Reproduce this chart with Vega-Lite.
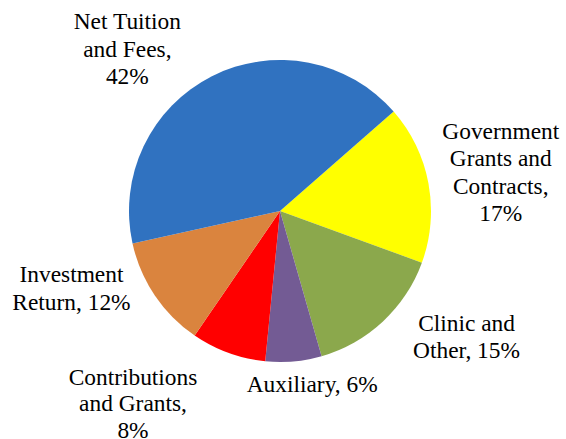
{
  "$schema": "https://vega.github.io/schema/vega-lite/v6.json",
  "width": 560,
  "height": 422,
  "padding": {"left": 0, "top": 0, "right": 6, "bottom": 17},
  "autosize": "none",
  "background": "white",
  "config": {"view": {"stroke": null}},
  "data": {
    "values": [
      {"category": "Government Grants and Contracts", "value": 17, "rank": 1, "label": "Government\nGrants and\nContracts,\n17%"},
      {"category": "Clinic and Other", "value": 15, "rank": 2, "label": "Clinic and\nOther, 15%"},
      {"category": "Auxiliary", "value": 6, "rank": 3, "label": "Auxiliary, 6%"},
      {"category": "Contributions and Grants", "value": 8, "rank": 4, "label": "Contributions\nand Grants,\n8%"},
      {"category": "Investment Return", "value": 12, "rank": 5, "label": "Investment\nReturn, 12%"},
      {"category": "Net Tuition and Fees", "value": 42, "rank": 6, "label": "Net Tuition\nand Fees,\n42%"}
    ]
  },
  "encoding": {
    "theta": {"field": "value", "type": "quantitative", "stack": true, "scale": {"range": [0.852, 7.135]}},
    "order": {"field": "rank", "type": "quantitative"}
  },
  "layer": [
    {
      "mark": {"type": "arc", "outerRadius": 151, "stroke": null},
      "encoding": {
        "color": {
          "field": "category",
          "type": "nominal",
          "legend": null,
          "scale": {
            "domain": ["Government Grants and Contracts", "Clinic and Other", "Auxiliary", "Contributions and Grants", "Investment Return", "Net Tuition and Fees"],
            "range": ["#FFFF00", "#8BA84C", "#735B94", "#FF0000", "#DA843E", "#3072C0"]
          }
        }
      }
    },
    {
      "mark": {"type": "text", "radius": 190, "dx": 34, "dy": -44, "font": "Liberation Serif", "fontSize": 23.4, "lineHeight": 27.3, "lineBreak": "\n", "align": "center", "baseline": "middle", "color": "black"},
      "encoding": {"detail": {"field": "category"}, "text": {"condition": {"test": "datum.category === 'Government Grants and Contracts'", "field": "label"}, "value": ""}}
    },
    {
      "mark": {"type": "text", "radius": 190, "dx": 57, "dy": -26, "font": "Liberation Serif", "fontSize": 23.4, "lineHeight": 27.5, "lineBreak": "\n", "align": "center", "baseline": "middle", "color": "black"},
      "encoding": {"detail": {"field": "category"}, "text": {"condition": {"test": "datum.category === 'Clinic and Other'", "field": "label"}, "value": ""}}
    },
    {
      "mark": {"type": "text", "radius": 190, "dx": 15, "dy": -15, "font": "Liberation Serif", "fontSize": 23.4, "lineHeight": 27.5, "lineBreak": "\n", "align": "center", "baseline": "middle", "color": "black"},
      "encoding": {"detail": {"field": "category"}, "text": {"condition": {"test": "datum.category === 'Auxiliary'", "field": "label"}, "value": ""}}
    },
    {
      "mark": {"type": "text", "radius": 190, "dx": -82, "dy": -12, "font": "Liberation Serif", "fontSize": 23.4, "lineHeight": 26.5, "lineBreak": "\n", "align": "center", "baseline": "middle", "color": "black"},
      "encoding": {"detail": {"field": "category"}, "text": {"condition": {"test": "datum.category === 'Contributions and Grants'", "field": "label"}, "value": ""}}
    },
    {
      "mark": {"type": "text", "radius": 190, "dx": -51, "dy": -42, "font": "Liberation Serif", "fontSize": 23.4, "lineHeight": 27.5, "lineBreak": "\n", "align": "center", "baseline": "middle", "color": "black"},
      "encoding": {"detail": {"field": "category"}, "text": {"condition": {"test": "datum.category === 'Investment Return'", "field": "label"}, "value": ""}}
    },
    {
      "mark": {"type": "text", "radius": 190, "dx": -67, "dy": -19, "font": "Liberation Serif", "fontSize": 23.4, "lineHeight": 27.5, "lineBreak": "\n", "align": "center", "baseline": "middle", "color": "black"},
      "encoding": {"detail": {"field": "category"}, "text": {"condition": {"test": "datum.category === 'Net Tuition and Fees'", "field": "label"}, "value": ""}}
    }
  ]
}
